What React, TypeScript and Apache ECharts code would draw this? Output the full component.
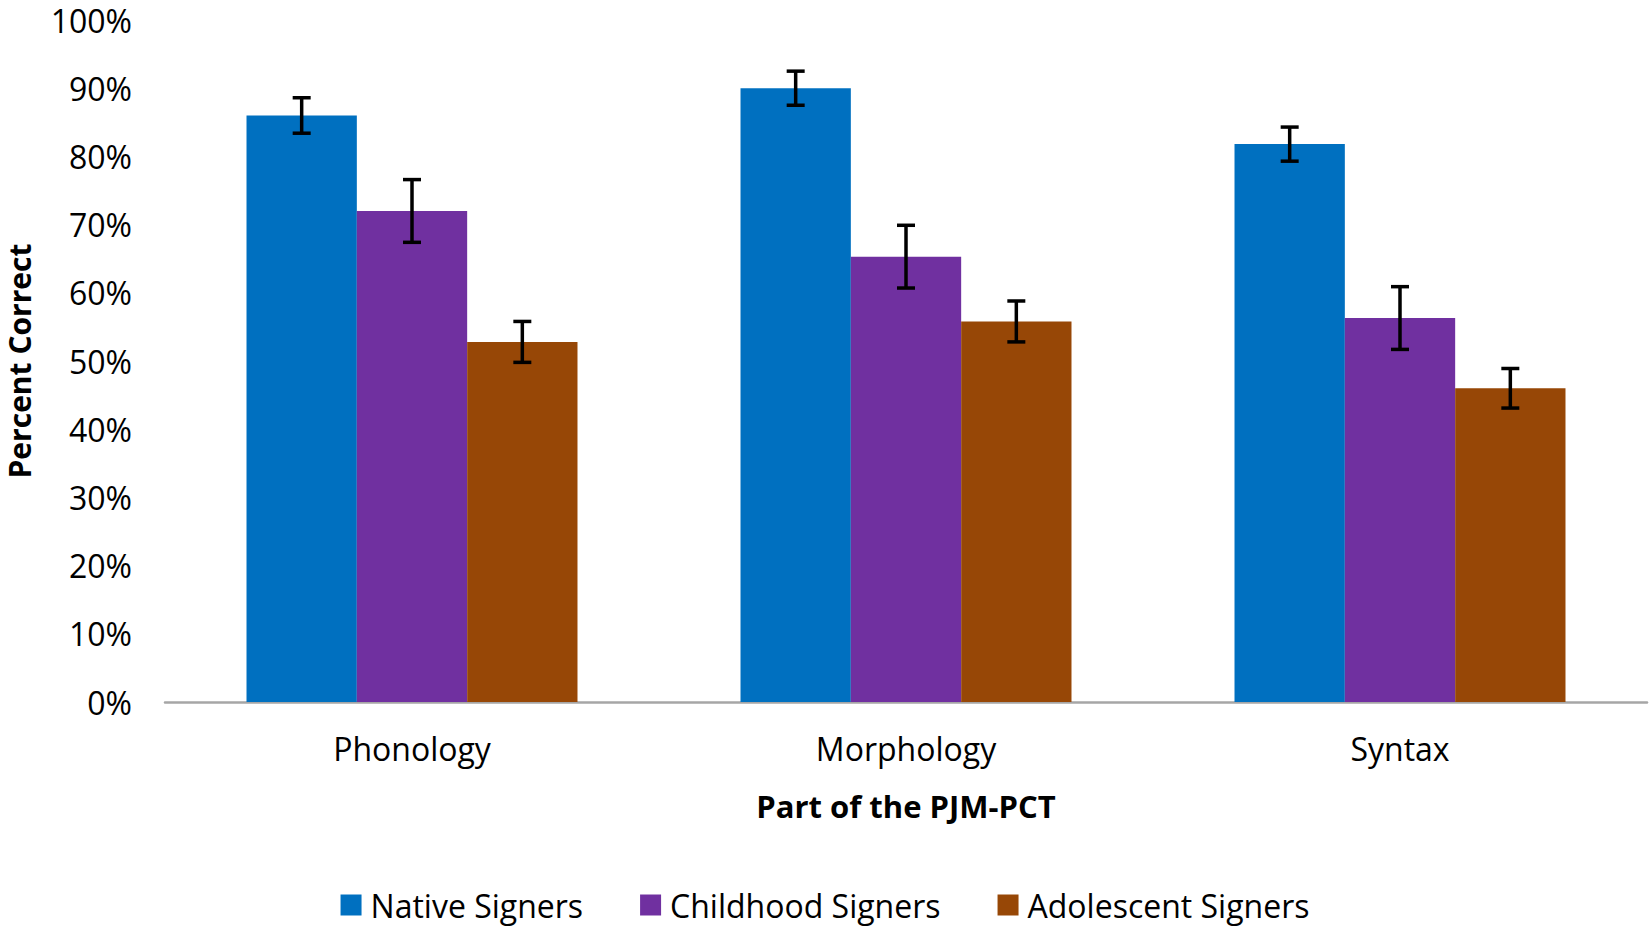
import React, { useEffect, useRef } from 'react';
import * as echarts from 'echarts';

const categories = ['Phonology', 'Morphology', 'Syntax'];
const seriesNames = ['Native Signers', 'Childhood Signers', 'Adolescent Signers'];
const colors = ['#0070C0', '#7030A0', '#974706'];

// percent correct per part (Phonology, Morphology, Syntax)
const nativeValues = [86.0, 90.0, 81.8];
const childhoodValues = [72.0, 65.3, 56.3];
const adolescentValues = [52.8, 55.8, 46.0];

// error bar half-widths
const nativeErrors = [2.6, 2.5, 2.5];
const childhoodErrors = [4.6, 4.6, 4.6];
const adolescentErrors = [3.0, 3.0, 2.9];

const yTicks = [0, 100, 10];

const FONT = '"Open Sans", sans-serif';
const CATEGORY_GAP = 0.33;

const App: React.FC = () => {
  const chartRef = useRef<HTMLDivElement>(null);

  useEffect(() => {
    document.body.style.margin = '0';
    if (!chartRef.current) return;
    const chart = echarts.init(chartRef.current, undefined, { renderer: 'svg' });

    const values = [nativeValues, childhoodValues, adolescentValues];
    const errors = [nativeErrors, childhoodErrors, adolescentErrors];

    const barSeries = seriesNames.map((name, i) => ({
      name,
      type: 'bar',
      data: values[i],
      barGap: '0%',
      barCategoryGap: `${CATEGORY_GAP * 100}%`,
      itemStyle: { color: colors[i] },
    }));

    const errorSeries = seriesNames.map((name, i) => ({
      name: name + ' error',
      type: 'custom',
      z: 5,
      clip: false,
      data: values[i].map((v, j) => [j, v - errors[i][j], v + errors[i][j]]),
      renderItem: (params: any, api: any) => {
        const cat = api.value(0);
        const lo = api.coord([cat, api.value(1)]);
        const hi = api.coord([cat, api.value(2)]);
        const band = api.size([1, 0])[0];
        const bw = (band * (1 - CATEGORY_GAP)) / 3;
        const x = lo[0] + (i - 1) * bw;
        const cap = 9;
        const style = { stroke: '#000', lineWidth: 3.5 };
        return {
          type: 'group',
          children: [
            { type: 'line', shape: { x1: x, y1: lo[1], x2: x, y2: hi[1] }, style },
            { type: 'line', shape: { x1: x - cap, y1: hi[1], x2: x + cap, y2: hi[1] }, style },
            { type: 'line', shape: { x1: x - cap, y1: lo[1], x2: x + cap, y2: lo[1] }, style },
          ],
        };
      },
    }));

    chart.setOption({
      animation: false,
      textStyle: { fontFamily: FONT },
      grid: {
        left: 165,
        right: 3,
        top: 20,
        bottom: 226,
        containLabel: false,
        outerBoundsMode: 'none',
      },
      legend: {
        data: seriesNames,
        top: 889,
        left: 'center',
        icon: 'rect',
        itemWidth: 21,
        itemHeight: 21,
        itemGap: 57,
        padding: 0,
        textStyle: {
          fontSize: 32,
          lineHeight: 30,
          color: '#000',
          fontFamily: FONT,
          padding: [0, 0, 0, 4],
        },
      },
      xAxis: {
        type: 'category',
        data: categories,
        name: 'Part of the PJM-PCT',
        nameLocation: 'middle',
        nameGap: 88,
        nameTextStyle: { fontSize: 31, fontWeight: 'bold', color: '#000', fontFamily: FONT },
        axisLine: { lineStyle: { color: '#a6a6a6', width: 2.5 } },
        axisTick: { show: false },
        axisLabel: { fontSize: 32, color: '#000', margin: 30, fontFamily: FONT },
      },
      yAxis: {
        type: 'value',
        min: yTicks[0],
        max: yTicks[1],
        interval: yTicks[2],
        name: 'Percent Correct',
        nameLocation: 'middle',
        nameGap: 131,
        nameRotate: 90,
        nameTextStyle: {
          fontSize: 30,
          lineHeight: 30,
          fontWeight: 'bold',
          color: '#000',
          fontFamily: FONT,
        },
        axisLine: { show: false },
        axisTick: { show: false },
        splitLine: { show: false },
        axisLabel: { fontSize: 32, color: '#000', margin: 33, formatter: '{value}%', fontFamily: FONT },
      },
      series: [...barSeries, ...errorSeries],
    });

    return () => {
      chart.dispose();
    };
  }, []);

  return <div ref={chartRef} style={{ width: '1650px', height: '928px' }} />;
};

export default App;
